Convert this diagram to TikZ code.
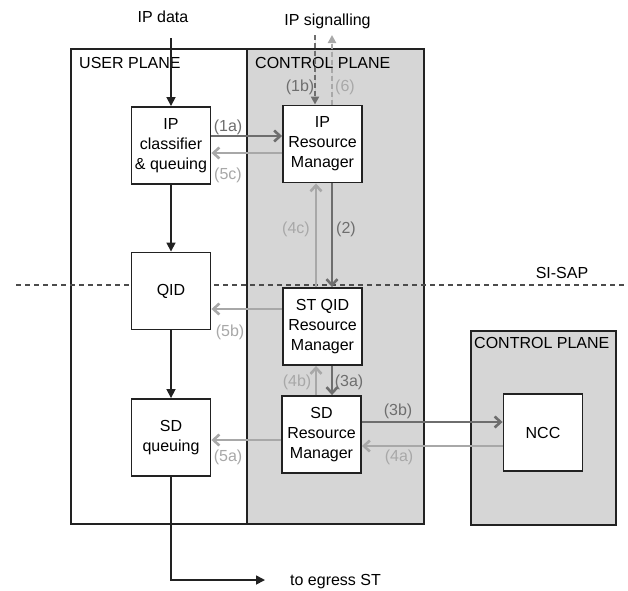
\documentclass[tikz,border=0pt]{standalone}
\usepackage{fontspec}
\setmainfont{Liberation Sans}
\usetikzlibrary{arrows.meta}
\definecolor{planefill}{HTML}{D6D6D6}
\definecolor{darkarr}{HTML}{6E6E6E}
\definecolor{lightarr}{HTML}{A8A8A8}
\definecolor{edge}{HTML}{222222}
\begin{document}
\begin{tikzpicture}[x=1pt,y=-1pt,
  font=\fontsize{16}{20}\selectfont,
  box/.style={draw=edge, line width=1.9pt, fill=white, minimum width=79pt, minimum height=77pt, inner sep=0pt, align=center},
  plane/.style={draw=edge, line width=1.7pt},
  darrow/.style={draw=darkarr, line width=2.6pt, -{Straight Barb[length=6pt,width=11pt]}},
  larrow/.style={draw=lightarr, line width=2.6pt, -{Straight Barb[length=6pt,width=11pt]}},
  dsig/.style={draw=darkarr, fill=darkarr, line width=2pt, dash pattern=on 5pt off 3pt, -{Triangle[length=8pt,width=8pt]}},
  lsig/.style={draw=lightarr, fill=lightarr, line width=2pt, dash pattern=on 5pt off 3pt, -{Triangle[length=8pt,width=8pt]}},
  blk/.style={draw=edge, line width=1.7pt, -{Triangle[length=9pt,width=9pt]}},
  dlbl/.style={text=darkarr, inner sep=0pt},
  llbl/.style={text=lightarr, inner sep=0pt},
  sisap/.style={draw=black!70, line width=2pt, dash pattern=on 5pt off 4pt}]
\useasboundingbox[fill=white] (0,0) rectangle (628,590);
% planes
\draw[plane] (71,49) rectangle (247,524);
\draw[plane, fill=planefill] (247,49) rectangle (424,524);
\draw[plane, fill=planefill] (471,331) rectangle (616,525);
\node[anchor=west, inner sep=0pt] (upl) at (79,63) {USER PLANE};
\node[anchor=west, inner sep=0pt] (cpl1) at (255,63) {CONTROL PLANE};
\node[anchor=west, inner sep=0pt] (cpl2) at (474,343) {CONTROL PLANE};
% SI-SAP
\coordinate (sL) at (16,285);
\coordinate (sR) at (628,285);
\draw[sisap] (sL) -- (sR);
\node[inner sep=0pt] (sisaplbl) at (562,273) {SI-SAP};
% boxes
\node[box] (cls) at (171,145.5) {IP\\classifier\\\& queuing};
\node[box] (iprm) at (322.5,144) {IP\\Resource\\Manager};
\node[box] (qid) at (171,291) {QID};
\node[box] (stqid) at (322.5,326.5) {ST QID\\Resource\\Manager};
\node[box] (sdq) at (171,437.5) {SD\\queuing};
\node[box] (sdrm) at (321.5,434.5) {SD\\Resource\\Manager};
\node[box] (ncc) at (543,432.5) {NCC};
% helper coordinates
\coordinate (xl) at (316,0);
\coordinate (xr) at (332,0);
\coordinate (y1a) at (0,136);
\coordinate (y5c) at (0,153);
\coordinate (y5b) at (0,309);
\coordinate (y5a) at (0,440);
\coordinate (y3b) at (0,422);
\coordinate (y4a) at (0,446);
% black data path
\node[inner sep=0pt] (ipdata) at (163,17) {IP data};
\coordinate (ipin) at (171,38);
\draw[blk] (ipin) -- (cls.north);
\draw[blk] (cls.south) -- (qid.north);
\draw[blk] (qid.south) -- (sdq.north);
\coordinate (egress) at (265,580);
\draw[blk] (sdq.south) |- (egress);
\node[anchor=west, inner sep=0pt] (egt) at (290,582) {to egress ST};
% signalling
\node[inner sep=0pt] (ipsig) at (327.5,21) {IP signalling};
\coordinate (sig1) at (315,35);
\coordinate (sig6) at (332,35);
\draw[dsig] (sig1) -- (sig1 |- iprm.north);
\draw[lsig] (sig6 |- iprm.north) -- (sig6);
\node[dlbl] (l1b) at (300,87) {(1b)};
\node[llbl] (l6) at (345,87) {(6)};
% control arrows
\draw[darrow] (cls.east |- y1a) -- (iprm.west |- y1a);
\draw[larrow] (iprm.west |- y5c) -- (cls.east |- y5c);
\node[dlbl] (l1a) at (228,127) {(1a)};
\node[llbl] (l5c) at (228,175) {(5c)};
\draw[larrow] (stqid.north -| xl) -- (iprm.south -| xl);
\draw[darrow] (iprm.south -| xr) -- (stqid.north -| xr);
\node[llbl] (l4c) at (296,229) {(4c)};
\node[dlbl] (l2) at (346,229) {(2)};
\draw[larrow] (stqid.west |- y5b) -- (qid.east |- y5b);
\node[llbl] (l5b) at (230,332) {(5b)};
\draw[larrow] (sdrm.north -| xl) -- (stqid.south -| xl);
\draw[darrow] (stqid.south -| xr) -- (sdrm.north -| xr);
\node[llbl] (l4b) at (297,382) {(4b)};
\node[dlbl] (l3a) at (349,382) {(3a)};
\draw[larrow] (sdrm.west |- y5a) -- (sdq.east |- y5a);
\node[llbl] (l5a) at (228,457) {(5a)};
\draw[darrow] (sdrm.east |- y3b) -- (ncc.west |- y3b);
\draw[larrow] (ncc.west |- y4a) -- (sdrm.east |- y4a);
\node[dlbl] (l3b) at (398,411) {(3b)};
\node[llbl] (l4a) at (399,457) {(4a)};
\end{tikzpicture}
\end{document}
